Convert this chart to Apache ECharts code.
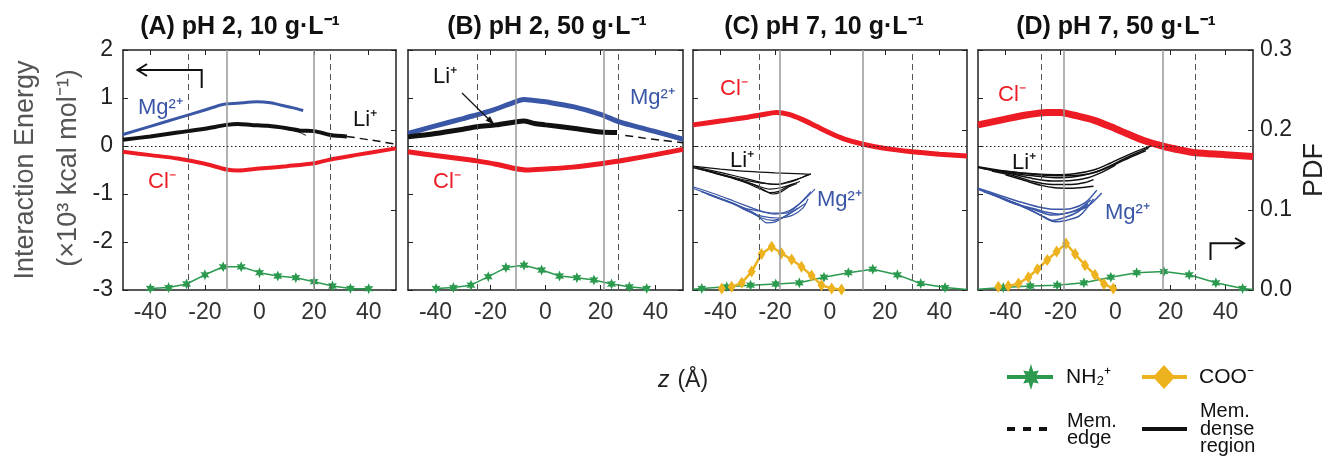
<!DOCTYPE html>
<html>
<head>
<meta charset="utf-8">
<script src="https://cdn.jsdelivr.net/npm/echarts@6/dist/echarts.min.js"></script>
<style>
  html, body { margin: 0; padding: 0; background: #fff; }
  #main { width: 1328px; height: 458px; }
</style>
</head>
<body>
<div id="main"></div>
<script>
var chart = echarts.init(document.getElementById('main'));

// ---- data (z in Angstrom, energy in 10^3 kcal/mol, PDF) ----
var xTicks = [-40, -20, 0, 20, 40];
var titles = ['(A) pH 2, 10 g·L⁻¹', '(B) pH 2, 50 g·L⁻¹', '(C) pH 7, 10 g·L⁻¹', '(D) pH 7, 50 g·L⁻¹'];

// membrane edge (dashed) and dense region (solid) positions
var memEdge = [[-26, 26], [-25, 26.5], [-26, 30], [-27, 29]];
var memDense = [[-12, 20], [-11, 21], [-18.5, 12], [-19, 17]];

// panel A
var mgA = [[-50,0.24],[-40,0.41],[-30,0.58],[-20,0.75],[-13,0.87],[-8,0.89],[-1,0.92],[4,0.9],[8,0.85],[12,0.8],[16,0.74]];
var liA = [[-50,0.13],[-40,0.2],[-30,0.28],[-20,0.36],[-12,0.44],[-8,0.46],[-3,0.44],[3,0.42],[10,0.37],[15,0.32],[20,0.31],[26,0.23],[32,0.2]];
var liA2 = [[4,0.41],[10,0.36],[14,0.3],[17,0.22]];
var liDashA = [[32,0.2],[40,0.13],[50,0.04]];
var clA = [[-50,-0.12],[-40,-0.19],[-30,-0.26],[-20,-0.37],[-12,-0.49],[-8,-0.51],[0,-0.47],[10,-0.42],[20,-0.36],[26,-0.28],[35,-0.19],[50,-0.05]];
var nhA = [[-40,0.002],[-33.3,0.003],[-26.7,0.0075],[-20,0.019],[-13.3,0.029],[-6.7,0.029],[0,0.0217],[6.7,0.0175],[13.3,0.0154],[20,0.0104],[26.7,0.005],[33.3,0.002],[40,0.0017]];

// panel B
var mgB = [[-50,0.26],[-40,0.42],[-30,0.57],[-25,0.65],[-20,0.73],[-11,0.92],[-8,0.97],[-4,0.95],[0,0.92],[10,0.82],[20,0.66],[26,0.52],[32,0.42],[40,0.3],[50,0.14]];
var liB = [[-50,0.19],[-40,0.26],[-30,0.35],[-25,0.4],[-18,0.44],[-11,0.5],[-8,0.52],[-4,0.47],[0,0.44],[10,0.37],[20,0.29],[26,0.28]];
var liDashB = [[29,0.22],[35,0.17],[42,0.12],[50,0.07]];
var clB = [[-50,-0.12],[-40,-0.2],[-30,-0.27],[-25,-0.31],[-18,-0.38],[-11,-0.47],[-7,-0.5],[0,-0.48],[10,-0.44],[20,-0.37],[30,-0.28],[40,-0.18],[50,-0.07]];
var nhB = [[-39.8,0.002],[-33.5,0.003],[-27.1,0.006],[-20.8,0.0167],[-14.4,0.028],[-7.8,0.031],[-1.4,0.025],[5.1,0.0175],[11.4,0.0154],[17.6,0.0125],[24,0.0075],[30.5,0.004],[36.8,0.002]];

// panel C
var clC = [[-50,0.44],[-40,0.52],[-30,0.6],[-25,0.65],[-19.5,0.7],[-15,0.66],[-10,0.55],[-5,0.41],[0,0.27],[5,0.15],[12,0.04],[20,-0.05],[30,-0.12],[40,-0.17],[50,-0.21]];
var liC = [
  [[-50,-0.43],[-40,-0.55],[-32,-0.66],[-25,-0.76],[-20,-0.8],[-15,-0.74],[-10,-0.65],[-7,-0.58]],
  [[-50,-0.45],[-42,-0.56],[-34,-0.7],[-27,-0.82],[-22,-0.9],[-18,-0.87],[-14,-0.8],[-11,-0.74]],
  [[-46,-0.5],[-38,-0.62],[-31,-0.76],[-26,-0.88],[-22,-0.97],[-19,-0.95],[-16,-0.86],[-13,-0.78]],
  [[-44,-0.52],[-36,-0.64],[-30,-0.72],[-24,-0.78],[-19,-0.8],[-15,-0.76],[-12,-0.7],[-8,-0.6]],
  [[-50,-0.42],[-40,-0.48],[-30,-0.53],[-20,-0.56],[-10,-0.58],[-7,-0.59]],
  [[-48,-0.47],[-40,-0.6],[-33,-0.7],[-28,-0.8],[-24,-0.92],[-21,-1.0],[-18,-0.96],[-15,-0.85],[-12,-0.78]]
];
var mgC = [
  [[-50,-0.85],[-42,-1.0],[-35,-1.15],[-28,-1.3],[-24,-1.38],[-20,-1.42],[-15,-1.35],[-10,-1.15],[-5.5,-0.9]],
  [[-50,-0.88],[-42,-1.05],[-35,-1.2],[-29,-1.38],[-25,-1.5],[-21,-1.55],[-17,-1.48],[-13,-1.35],[-9,-1.2]],
  [[-47,-0.95],[-40,-1.1],[-33,-1.25],[-27,-1.42],[-23,-1.6],[-20,-1.58],[-16,-1.45],[-12,-1.3]],
  [[-45,-1.0],[-38,-1.15],[-31,-1.3],[-26,-1.35],[-21,-1.4],[-16,-1.4],[-12,-1.25],[-7,-0.95]],
  [[-44,-1.02],[-36,-1.18],[-30,-1.36],[-25,-1.46],[-19,-1.5],[-14,-1.45],[-10,-1.3],[-8,-1.1]]
];
var cooC = [[-39.5,0.002],[-35.9,0.004],[-32.2,0.009],[-28.6,0.023],[-25,0.045],[-21.3,0.054],[-17.7,0.046],[-14,0.038],[-10.4,0.029],[-6.7,0.018],[-3.1,0.006],[0.6,0.002],[4.2,0.0005]];
var nhC = [[-46.8,0.002],[-37.7,0.004],[-29,0.006],[-19.8,0.0075],[-11.2,0.009],[-2.2,0.016],[6.7,0.0217],[15.6,0.026],[24.6,0.019],[33.1,0.008],[42,0.003]];
var nhTailC = [[-50,0.001],[50,0.0005]];

// panel D
var clD = [[-50,0.44],[-40,0.56],[-32,0.65],[-25,0.7],[-20,0.7],[-15,0.64],[-8,0.54],[0,0.36],[4,0.26],[10,0.12],[17,0.0],[24,-0.09],[29,-0.14],[40,-0.18],[50,-0.22]];
var liD = [
  [[-50,-0.43],[-40,-0.52],[-30,-0.58],[-22,-0.6],[-15,-0.58],[-8,-0.5],[-2,-0.36],[4,-0.2],[10,-0.06],[13,0.0]],
  [[-50,-0.45],[-40,-0.55],[-30,-0.62],[-22,-0.66],[-15,-0.64],[-8,-0.56],[-3,-0.44],[3,-0.27],[8,-0.14],[12,-0.05]],
  [[-48,-0.47],[-38,-0.58],[-30,-0.68],[-23,-0.73],[-16,-0.72],[-10,-0.66],[-5,-0.55],[0,-0.4]],
  [[-45,-0.52],[-37,-0.62],[-30,-0.74],[-23,-0.8],[-16,-0.8],[-11,-0.76],[-8,-0.7]],
  [[-40,-0.6],[-33,-0.72],[-27,-0.82],[-22,-0.87],[-16,-0.88],[-11,-0.86],[-8,-0.84]],
  [[-50,-0.44],[-42,-0.52],[-35,-0.56],[-28,-0.6],[-20,-0.62],[-12,-0.6],[-6,-0.52],[0,-0.38],[6,-0.22],[11,-0.1]]
];
var mgD = [
  [[-50,-0.88],[-42,-1.03],[-35,-1.16],[-28,-1.27],[-22,-1.32],[-16,-1.3],[-11,-1.18],[-6.8,-0.92]],
  [[-50,-0.9],[-42,-1.07],[-35,-1.22],[-28,-1.36],[-23,-1.44],[-18,-1.4],[-13,-1.3],[-9,-1.12]],
  [[-48,-0.95],[-40,-1.12],[-33,-1.28],[-27,-1.45],[-23,-1.55],[-19,-1.5],[-14,-1.38],[-10,-1.2]],
  [[-45,-1.0],[-38,-1.16],[-31,-1.33],[-26,-1.48],[-22,-1.58],[-18,-1.55],[-13,-1.45],[-8,-1.1]],
  [[-44,-1.02],[-37,-1.2],[-30,-1.3],[-25,-1.38],[-20,-1.42],[-15,-1.36],[-10,-1.25],[-5,-0.98]]
];
var cooD = [[-42.6,0.004],[-39,0.005],[-35.3,0.008],[-31.7,0.016],[-28.4,0.026],[-24.8,0.0375],[-21.4,0.048],[-18,0.058],[-14.7,0.045],[-11.1,0.031],[-7.5,0.019],[-4.2,0.0075],[-0.8,0.002]];
var nhD = [[-40.8,0.003],[-31,0.005],[-21.2,0.006],[-11.5,0.009],[-1.7,0.016],[7.7,0.0217],[17.6,0.023],[26.8,0.019],[36.5,0.009],[46.2,0.002]];
var nhTailD = [[-50,0.001],[50,0.0005]];

// ---- layout / style ----
var FONT = '"Liberation Sans", Arial, Helvetica, sans-serif';
var gridLeft = [123, 408, 693, 978];
var gridWidth = [273, 275, 274, 275];
var titleX = [240, 547, 824, 1116];
var BLUE = '#3a56a6', RED = '#ed1c24', BLACK = '#111', GREEN = '#2b9a4f', YELLOW = '#ecb31e';
var STAR = 'path://M10 0L12.5 5.67L18.66 5L15 10L18.66 15L12.5 14.33L10 20L7.5 14.33L1.34 15L5 10L1.34 5L7.5 5.67Z';

var grids = [], xAxes = [], yAxes = [], series = [];
var axisLineStyle = { color: '#222', width: 1.5 };

for (var i = 0; i < 4; i++) {
  grids.push({ left: gridLeft[i], width: gridWidth[i], top: 50, height: 240 });
  xAxes.push({
    gridIndex: i, type: 'value', min: -50, max: 50, position: 'bottom',
    axisLine: { onZero: false, lineStyle: axisLineStyle },
    axisTick: { inside: true, length: 5, customValues: xTicks, lineStyle: { color: '#222' } },
    axisLabel: { customValues: xTicks, fontSize: 23, fontFamily: FONT, color: '#333', margin: 11 },
    splitLine: { show: false }
  });
  xAxes.push({
    gridIndex: i, type: 'value', min: -50, max: 50, position: 'top',
    axisLine: { onZero: false, lineStyle: axisLineStyle },
    axisTick: { inside: true, length: 5, customValues: xTicks, lineStyle: { color: '#222' } },
    axisLabel: { show: false }, splitLine: { show: false }
  });
  yAxes.push({
    gridIndex: i, type: 'value', min: -3, max: 2, interval: 1, position: 'left',
    axisLine: { show: true, onZero: false, lineStyle: axisLineStyle },
    axisTick: { show: true, inside: true, length: 5, lineStyle: { color: '#222' } },
    axisLabel: { show: i === 0, fontSize: 23, fontFamily: FONT, color: '#222', margin: 10 },
    splitLine: { show: false }
  });
  yAxes.push({
    gridIndex: i, type: 'value', min: 0, max: 0.3, interval: 0.1, position: 'right',
    axisLine: { show: true, onZero: false, lineStyle: axisLineStyle },
    axisTick: { show: true, inside: true, length: 5, lineStyle: { color: '#222' } },
    axisLabel: { show: i === 3, fontSize: 23, fontFamily: FONT, color: '#222', margin: 7,
                 formatter: function (v) { return v.toFixed(1); } },
    splitLine: { show: false }
  });

  // reference lines: membrane edge, dense region, zero energy
  var ml = [];
  memEdge[i].forEach(function (v) {
    ml.push({ xAxis: v, lineStyle: { type: [6, 4], color: '#555', width: 1 } });
  });
  memDense[i].forEach(function (v) {
    ml.push({ xAxis: v, lineStyle: { type: 'solid', color: '#999', width: 1.5 } });
  });
  ml.push({ yAxis: 0, lineStyle: { type: [1.5, 2.5], color: '#222', width: 1 } });
  series.push({
    type: 'line', xAxisIndex: 2 * i, yAxisIndex: 2 * i, data: [], z: 1,
    markLine: { silent: true, symbol: 'none', label: { show: false }, animation: false, data: ml }
  });
}

function energy(i, data, color, width, dash) {
  series.push({
    type: 'line', xAxisIndex: 2 * i, yAxisIndex: 2 * i, data: data, symbol: 'none',
    smooth: 0.3, z: 4, silent: true,
    lineStyle: { color: color, width: width, type: dash ? [8, 5] : 'solid' }
  });
}
function pdf(i, data, color, symbol, size, width, tails) {
  var d = data.slice();
  if (tails) {
    d.unshift({ value: tails[0], symbol: 'none' });
    d.push({ value: tails[1], symbol: 'none' });
  }
  series.push({
    type: 'line', xAxisIndex: 2 * i, yAxisIndex: 2 * i + 1, data: d,
    symbol: symbol, symbolSize: size, showSymbol: true, smooth: false, z: 3, silent: true,
    itemStyle: { color: color }, lineStyle: { color: color, width: width }
  });
}

// A
pdf(0, nhA, GREEN, STAR, [9, 11], 1.5);
energy(0, clA, RED, 4);
energy(0, liA, BLACK, 4);
energy(0, liA2, BLACK, 1);
energy(0, liDashA, BLACK, 1.5, true);
energy(0, mgA, BLUE, 3);
// B
pdf(1, nhB, GREEN, STAR, [9, 11], 1.5);
energy(1, clB, RED, 5);
energy(1, mgB, BLUE, 5);
energy(1, liB, BLACK, 5);
energy(1, liDashB, BLACK, 1.5, true);
// C
pdf(2, nhC, GREEN, STAR, [9, 11], 1.5, nhTailC);
pdf(2, cooC, YELLOW, 'diamond', [8, 12], 2.5);
energy(2, clC, RED, 5);
liC.forEach(function (d) { energy(2, d, BLACK, 1.2); });
mgC.forEach(function (d) { energy(2, d, BLUE, 1.2); });
// D
pdf(3, nhD, GREEN, STAR, [9, 11], 1.5, nhTailD);
pdf(3, cooD, YELLOW, 'diamond', [8, 12], 2.5);
energy(3, clD, RED, 7);
liD.forEach(function (d) { energy(3, d, BLACK, 1.5); });
mgD.forEach(function (d) { energy(3, d, BLUE, 1.5); });

// ---- annotations ----
var graphics = [];
function txt(x, y, s, font, color, align, extra) {
  var e = { type: 'text', x: x, y: y, silent: true, z: 10,
    style: { text: s, font: font, fill: color, textAlign: align || 'left', textVerticalAlign: 'middle' } };
  if (extra) { for (var k in extra) e[k] = extra[k]; }
  graphics.push(e);
}
var LBL = '22px ' + FONT;
titles.forEach(function (t, i) { txt(titleX[i], 27, t, 'bold 25px ' + FONT, '#111', 'center'); });

txt(26, 170, 'Interaction Energy', '27px ' + FONT, '#555', 'center', { rotation: Math.PI / 2 });
txt(69, 168, '(×10³ kcal mol⁻¹)', '27px ' + FONT, '#555', 'center', { rotation: Math.PI / 2 });
txt(1315, 170, 'PDF', '27px ' + FONT, '#222', 'center', { rotation: Math.PI / 2 });
txt(658, 381, 'z', 'italic 23px ' + FONT, '#222', 'left');
txt(671, 381, ' (Å)', '23px ' + FONT, '#222', 'left');

// ion labels
txt(138, 108, 'Mg²⁺', LBL, BLUE); txt(353, 120, 'Li⁺', LBL, BLACK); txt(148, 182, 'Cl⁻', LBL, RED);
txt(433, 77, 'Li⁺', LBL, BLACK); txt(630, 98, 'Mg²⁺', LBL, BLUE); txt(433, 182, 'Cl⁻', LBL, RED);
txt(720, 89, 'Cl⁻', LBL, RED); txt(730, 161, 'Li⁺', LBL, BLACK); txt(817, 200, 'Mg²⁺', LBL, BLUE);
txt(998, 95, 'Cl⁻', LBL, RED); txt(1012, 163, 'Li⁺', LBL, BLACK); txt(1105, 213, 'Mg²⁺', LBL, BLUE);

// axis arrows
function pline(pts, w, fill) {
  graphics.push({ type: fill ? 'polygon' : 'polyline', silent: true, z: 10, shape: { points: pts },
    style: fill ? { fill: '#111', stroke: '#111', lineWidth: 1 } : { stroke: '#111', lineWidth: w, fill: null } });
}
pline([[201.7, 88], [201.7, 70], [138, 70]], 2);
pline([[147, 64], [137.5, 70], [147, 76]], 2);
pline([[1210.5, 260], [1210.5, 243.3], [1243, 243.3]], 2);
pline([[1235, 238], [1244, 243.3], [1235, 248.6]], 2);
pline([[462, 93], [490, 120.5]], 1.2);
pline([[493.5, 123.8], [486.3, 120.4], [489.8, 116.8]], 1, true);

// legend
graphics.push({ type: 'line', silent: true, shape: { x1: 1007, y1: 377, x2: 1053, y2: 377 }, style: { stroke: GREEN, lineWidth: 4 } });
graphics.push({ type: 'polygon', silent: true, shape: { points: [
  [1031, 364], [1033.3, 371.4], [1038.8, 370.5], [1035.5, 377], [1038.8, 383.5], [1033.3, 382.6],
  [1031, 390], [1028.7, 382.6], [1023.2, 383.5], [1026.5, 377], [1023.2, 370.5], [1028.7, 371.4]] },
  style: { fill: GREEN } });
txt(1066, 377, 'NH₂⁺', '21px ' + FONT, '#111');
graphics.push({ type: 'line', silent: true, shape: { x1: 1142, y1: 377, x2: 1187, y2: 377 }, style: { stroke: YELLOW, lineWidth: 4 } });
graphics.push({ type: 'polygon', silent: true, shape: { points: [[1164, 365], [1175, 377], [1164, 389], [1153, 377]] }, style: { fill: YELLOW } });
txt(1199, 377, 'COO⁻', '21px ' + FONT, '#111');
graphics.push({ type: 'line', silent: true, shape: { x1: 1007, y1: 429, x2: 1049, y2: 429 }, style: { stroke: '#111', lineWidth: 4, lineDash: [8, 8] } });
graphics.push({ type: 'line', silent: true, shape: { x1: 1142, y1: 429, x2: 1187, y2: 429 }, style: { stroke: '#111', lineWidth: 4 } });
graphics.push({ type: 'text', silent: true, x: 1067, y: 430, scaleX: 0.95,
  style: { text: 'Mem.\nedge', font: '21px ' + FONT, fill: '#111', lineHeight: 17, textVerticalAlign: 'middle' } });
graphics.push({ type: 'text', silent: true, x: 1200, y: 429, scaleX: 0.95,
  style: { text: 'Mem.\ndense\nregion', font: '21px ' + FONT, fill: '#111', lineHeight: 17.5, textVerticalAlign: 'middle' } });

chart.setOption({
  animation: false,
  backgroundColor: '#fff',
  grid: grids,
  xAxis: xAxes,
  yAxis: yAxes,
  series: series,
  graphic: { elements: graphics }
});
</script>
</body>
</html>
